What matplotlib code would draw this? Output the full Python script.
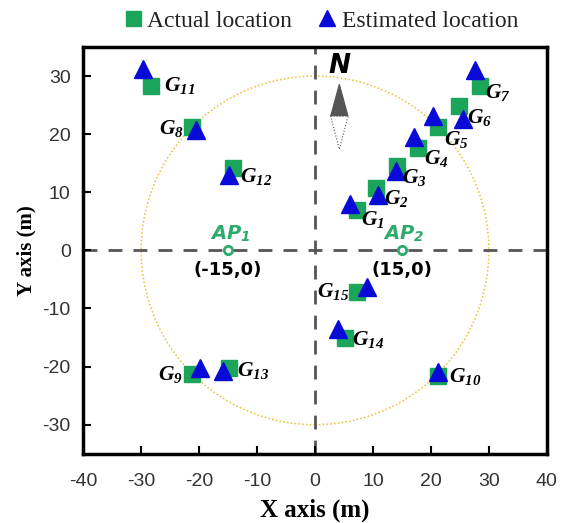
import numpy as np
import matplotlib
matplotlib.use("Agg")
import matplotlib.pyplot as plt
from matplotlib.patches import Circle, Polygon

plt.rcParams['mathtext.fontset'] = 'custom'
plt.rcParams['mathtext.it'] = 'Liberation Serif:italic:bold'
plt.rcParams['mathtext.rm'] = 'Liberation Serif:italic:bold'
plt.rcParams['mathtext.sf'] = 'DejaVu Sans:italic:bold'
plt.rcParams['axes.unicode_minus'] = False

# grid points G1..G15
names = [f"G{i}" for i in range(1, 16)]
actual_x = [7.2, 10.6, 14.2, 17.8, 21.3, 24.9, 28.4, -21.3, -21.3, 21.3, -28.3, -14.1, -14.9, 5.2, 7.2]
actual_y = [7.0, 10.7, 14.5, 17.6, 21.3, 24.8, 28.3, 21.3, -21.3, -21.7, 28.3, 14.2, -20.2, -15.1, -7.2]
est_x = [6.0, 10.8, 14.0, 17.1, 20.4, 25.6, 27.6, -20.5, -19.9, 21.3, -29.6, -14.9, -15.8, 3.9, 8.9]
est_y = [7.9, 9.6, 13.7, 19.5, 23.1, 22.6, 31.1, 20.7, -20.2, -20.9, 31.3, 13.0, -20.7, -13.6, -6.3]
label_x = [9.9, 14.1, 17.2, 21.0, 24.4, 28.4, 31.6, -24.8, -25.0, 25.9, -23.3, -10.1, -10.6, 9.2, 3.2]
label_y = [5.4, 9.0, 12.5, 15.9, 19.1, 22.8, 27.1, 20.9, -21.4, -21.7, 28.3, 12.8, -20.6, -15.4, -7.1]

# access points
ap_x = [-15, 15]
ap_y = [0, 0]
ap_names = ["1", "2"]
ap_coords = ["(-15,0)", "(15,0)"]

radius = 30

green = '#1aa55a'
blue = '#0a0ad8'
ap_green = '#2eab6a'

fig = plt.figure(figsize=(5.62, 5.23), dpi=100)
ax = fig.add_axes([0.148, 0.1325, 0.825, 0.7775])

ax.add_patch(Circle((0, 0), radius, fill=False, ec='#e8c030', lw=1.1, ls=(0, (1, 1.5)), zorder=1))
ax.axhline(0, color='#555555', lw=2, ls=(0, (5, 4)), zorder=1)
ax.axvline(0, color='#555555', lw=2, ls=(0, (5, 4)), zorder=1)

ax.plot(actual_x, actual_y, 's', color=green, ms=12, ls='none', zorder=3, label='Actual location')
ax.plot(est_x, est_y, '^', color=blue, ms=13, ls='none', zorder=4, label='Estimated location')

for n, lx, ly in zip(names, label_x, label_y):
    ax.text(lx, ly, r'$G_{%s}$' % n[1:], fontsize=15.5, ha='center', va='center', zorder=5)

ax.plot(ap_x, ap_y, 'o', mfc='white', mec=ap_green, ms=6, mew=2, zorder=5)
for x, y, n, c in zip(ap_x, ap_y, ap_names, ap_coords):
    ax.text(x + 0.4, y + 2.9, r'$\mathsf{AP}_\mathsf{%s}$' % n, color=ap_green, fontsize=14,
            ha='center', va='center', zorder=5)
    ax.text(x, y - 3.4, c, color='black', fontsize=13, fontweight='bold',
            family='DejaVu Sans', ha='center', va='center', zorder=5)

# north arrow
cx = 4.2
ax.add_patch(Polygon([[cx, 28.6], [cx - 1.5, 23.1], [cx + 1.5, 23.1]], closed=True,
                     fc='#555555', ec='#555555', lw=0.8, zorder=5))
ax.add_patch(Polygon([[cx - 1.5, 23.1], [cx + 1.5, 23.1], [cx, 17.4]], closed=True,
                     fc='white', ec='#555555', lw=0.8, ls=':', zorder=5))
ax.text(cx, 31.7, 'N', fontsize=19, fontweight='bold', fontstyle='italic',
        family='DejaVu Sans', ha='center', va='center', zorder=5)

ax.set_xlim(-40, 40)
ax.set_ylim(-35, 35)
ax.set_xticks(np.arange(-40, 41, 10))
ax.set_yticks(np.arange(-30, 31, 10))
ax.tick_params(direction='in', length=6, width=1.5, labelsize=14, labelcolor='#333333')
ax.tick_params(axis='x', pad=14)
ax.tick_params(axis='y', pad=9)
for lab in ax.get_xticklabels() + ax.get_yticklabels():
    lab.set_family('Liberation Sans')
for s in ax.spines.values():
    s.set_linewidth(2.5)

ax.set_xlabel('X axis (m)', fontsize=18, fontweight='bold', family='Liberation Serif', labelpad=6)
ax.set_ylabel('Y axis (m)', fontsize=15, fontweight='bold', family='Liberation Serif', labelpad=4)

leg = ax.legend(loc='lower center', bbox_to_anchor=(0.51, 1.0), ncol=2, frameon=False,
                prop={'family': 'Liberation Serif', 'size': 17}, handletextpad=0.1,
                columnspacing=1.0, handlelength=1.0, borderaxespad=0.25, markerscale=0.9)
for t in leg.get_texts():
    t.set_color('#222222')

fig.savefig('out.png', dpi=100)
